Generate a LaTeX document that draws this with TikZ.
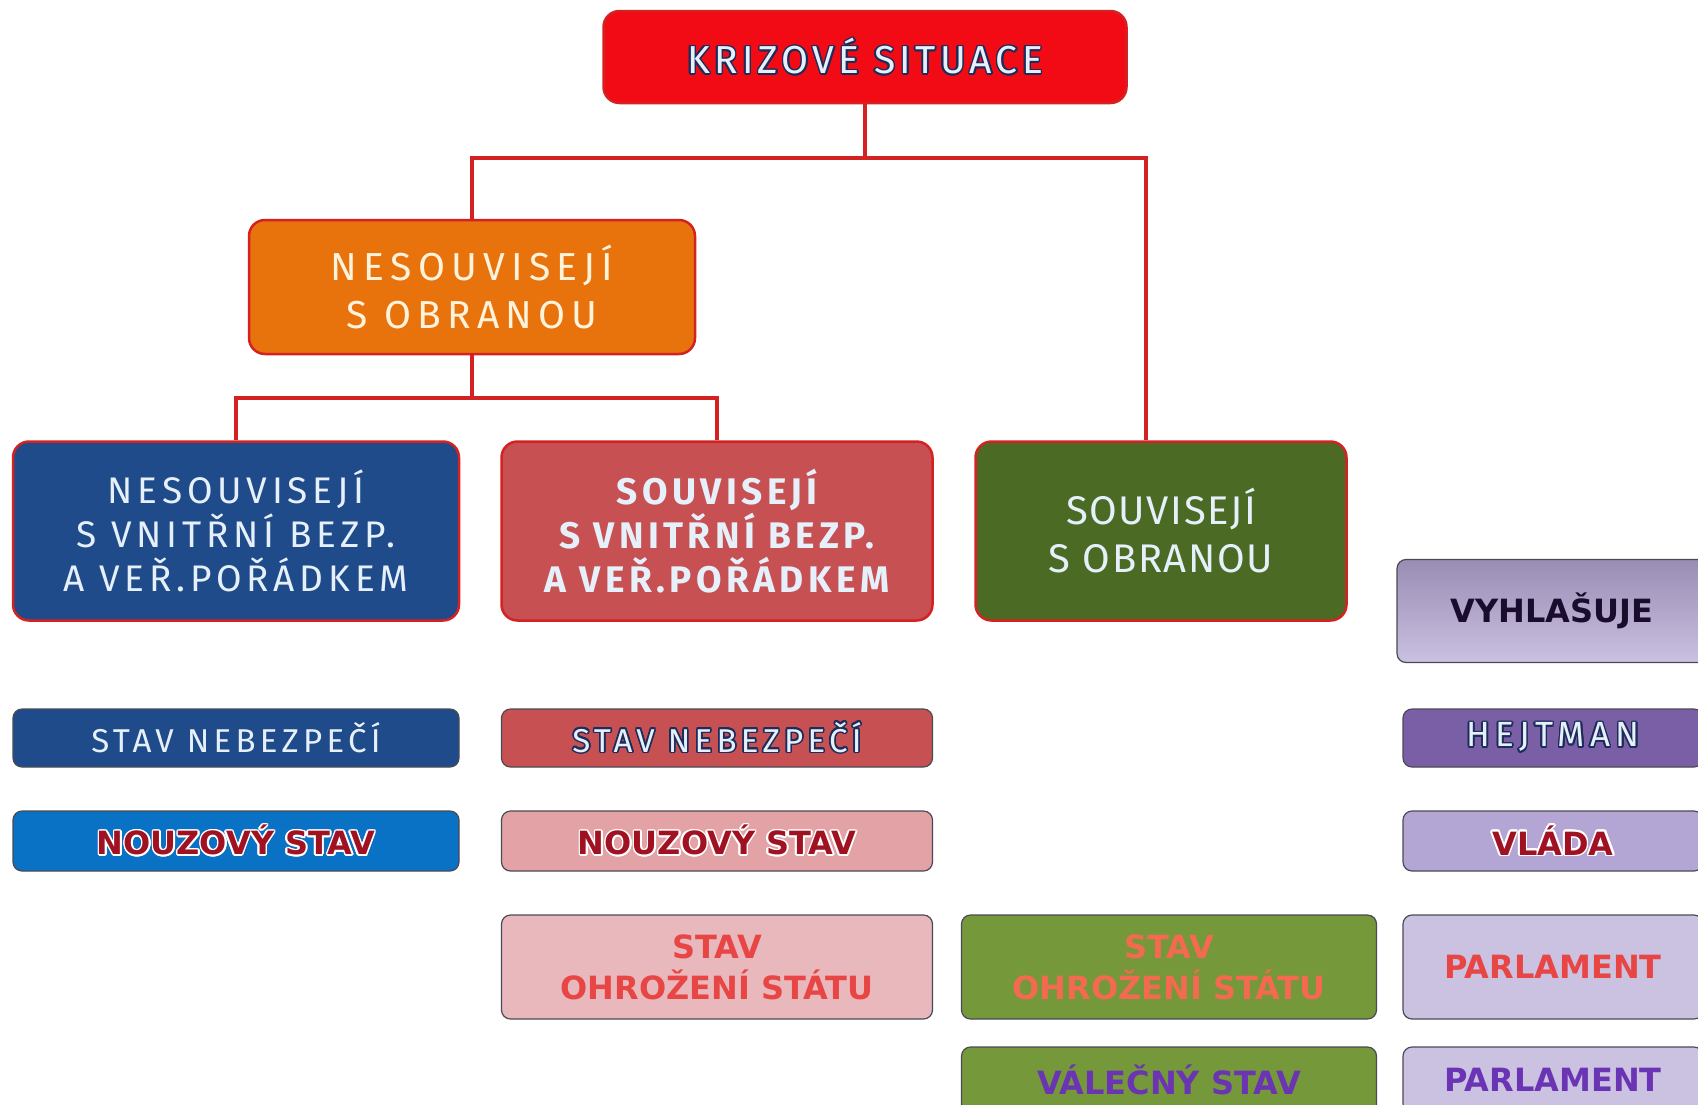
\documentclass[tikz,border=0pt]{standalone}
\usepackage{fontspec}
\setmainfont{Fira Sans}
\newfontfamily\heavyfont{DejaVu Sans}
\usepackage{contour}
\contourlength{1.6pt}

\definecolor{krizred}{HTML}{F20A14}
\definecolor{linkred}{HTML}{D42222}
\definecolor{boxline}{HTML}{4A4A55}
\definecolor{orangefill}{HTML}{E8720C}
\definecolor{navyfill}{HTML}{1F4B8A}
\definecolor{redfill}{HTML}{C65052}
\definecolor{olivefill}{HTML}{4B6A24}
\definecolor{bluefill}{HTML}{0A72C4}
\definecolor{pinkfill}{HTML}{E3A2A6}
\definecolor{palepink}{HTML}{E8B8BC}
\definecolor{greenfill}{HTML}{74983A}
\definecolor{lavfill}{HTML}{B4A6D4}
\definecolor{violetfill}{HTML}{7B5FA6}
\definecolor{palelav}{HTML}{CAC2E0}
\definecolor{navytext}{HTML}{1C2C5C}
\definecolor{lighttext}{HTML}{E6F0FA}
\definecolor{creamtext}{HTML}{FFF3DC}
\definecolor{darkred}{HTML}{A01222}
\definecolor{brightred}{HTML}{E84545}
\definecolor{salmon}{HTML}{F26A50}
\definecolor{purpletext}{HTML}{6A34B4}
\definecolor{inktext}{HTML}{1A0C2C}

\newcommand\spaced[1]{\addfontfeatures{LetterSpace=#1}}
\newcommand\titlesize{\fontsize{39}{48}\selectfont}
\newcommand\boxsize{\fontsize{37}{44}\selectfont}
\newcommand\rowsize{\fontsize{33}{40}\selectfont}
\newcommand\heavysize{\heavyfont\bfseries\fontsize{32}{41}\selectfont}

\begin{document}
\begin{tikzpicture}[x=1pt,y=-1pt,
    box/.style={draw=boxline,line width=1.2pt,rounded corners=9pt,align=center,inner sep=0pt},
    topbox/.style={box,draw=linkred,line width=2.5pt,rounded corners=16pt},
    link/.style={draw=linkred,line width=4pt},
    rightcol/.style={box,minimum width=300pt},
    heavy/.style={font=\heavysize}]

    \useasboundingbox (0,0) rectangle (1698,1104);

    \node[topbox,fill=krizred,minimum width=523pt,minimum height=92pt,
        font=\titlesize\spaced{11},text=lighttext] (krize) at (865,57)
        {\contour{navytext}{KRIZOVÉ SITUACE}};

    \node[topbox,fill=orangefill,minimum width=446pt,minimum height=134pt,
        font=\titlesize\spaced{16},text=creamtext] (nesob) at (472,287)
        {NESOUVISEJÍ\\S OBRANOU};

    \node[topbox,fill=navyfill,minimum width=446pt,minimum height=179pt,
        font=\boxsize\spaced{13},text=lighttext] (nesvnitr) at (236,531)
        {NESOUVISEJÍ\\S VNITŘNÍ BEZP.\\A VEŘ.POŘÁDKEM};
    \node[topbox,fill=redfill,minimum width=431pt,minimum height=179pt,
        font=\boxsize\bfseries\spaced{12},text=lighttext] (svnitr) at (717,531)
        {SOUVISEJÍ\\S VNITŘNÍ BEZP.\\A VEŘ.POŘÁDKEM};
    \node[topbox,fill=olivefill,minimum width=371pt,minimum height=179pt,
        font=\fontsize{40}{48}\selectfont\spaced{4},text=lighttext] (souob) at (1161,531)
        {SOUVISEJÍ\\S OBRANOU};

    \draw[link] (krize.south) -- ++(0,54) coordinate (bus1);
    \draw[link] (bus1) -| (nesob.north);
    \draw[link] (bus1) -| ([xshift=-15pt]souob.north);
    \draw[link] (nesob.south) -- ++(0,43) coordinate (bus2);
    \draw[link] (bus2) -| (nesvnitr.north);
    \draw[link] (bus2) -| (svnitr.north);

    % rows of states
    \node[box,fill=navyfill,minimum width=446pt,minimum height=58pt,
        font=\rowsize\spaced{13},text=lighttext] (nebezA) at (236,738)
        {STAV NEBEZPEČÍ};
    \node[box,fill=redfill,minimum width=431pt,minimum height=58pt,
        font=\rowsize\spaced{13},text=lighttext] (nebezB) at (717,738)
        {\contour{navytext}{STAV NEBEZPEČÍ}};

    \node[box,heavy,fill=bluefill,minimum width=446pt,minimum height=60pt,text=darkred] (nouzA) at (236,841)
        {\contour{white}{NOUZOVÝ STAV}};
    \node[box,heavy,fill=pinkfill,minimum width=431pt,minimum height=60pt,text=darkred] (nouzB) at (717,841)
        {\contour{white}{NOUZOVÝ STAV}};

    \node[box,heavy,fill=palepink,minimum width=431pt,minimum height=104pt,text=brightred] (ohrozA) at (717,967)
        {STAV\\OHROŽENÍ STÁTU};
    \node[box,heavy,fill=greenfill,minimum width=415pt,minimum height=104pt,text=salmon] (ohrozB) at (1169,967)
        {STAV\\OHROŽENÍ STÁTU};
    \node[box,heavy,fill=greenfill,minimum width=415pt,minimum height=66pt,text=purpletext] (valka) at (1169,1080)
        {VÁLEČNÝ STAV};

    % who declares
    \node[box,heavy,top color=lavfill!85!black,bottom color=lavfill!70!white,
        minimum width=310pt,minimum height=103pt,text=inktext] (vyhl) at (1552,611)
        {VYHLAŠUJE};
    \node[rightcol,fill=violetfill,minimum height=58pt,
        font=\fontsize{35}{40}\selectfont\spaced{15},text=lighttext] (hejtman) at (1553,738)
        {\contour{navytext}{HEJTMAN}};
    \node[rightcol,heavy,fill=lavfill,minimum height=60pt,text=darkred] (vlada) at (1553,841)
        {\contour{white}{VLÁDA}};
    \node[rightcol,heavy,fill=palelav,minimum height=104pt,text=brightred] (parlA) at (1553,967)
        {PARLAMENT};
    \node[rightcol,heavy,fill=palelav,minimum height=66pt,text=purpletext] (parlB) at (1553,1080)
        {PARLAMENT};

\end{tikzpicture}
\end{document}
